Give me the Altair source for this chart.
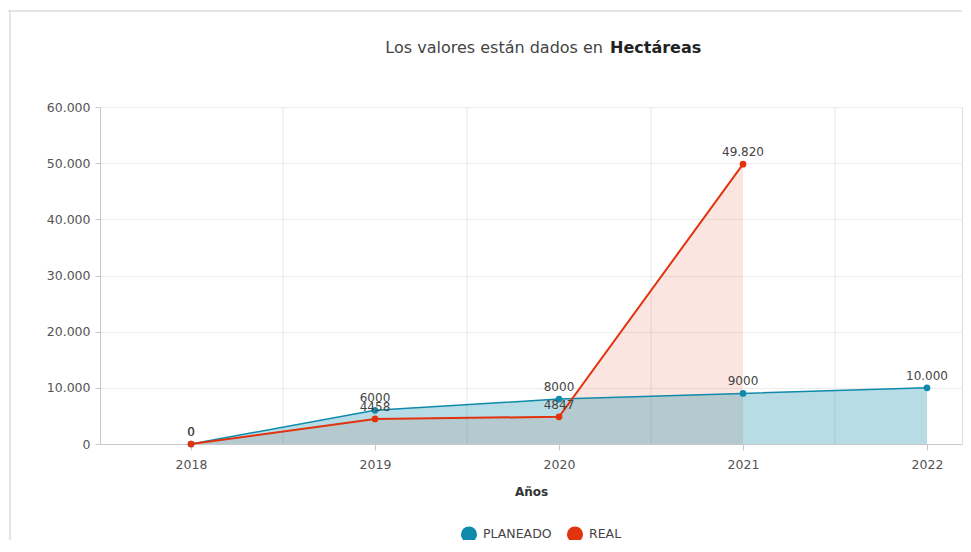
import altair as alt
import pandas as pd

years = [2018, 2019, 2020, 2021, 2022]
planeado = [0, 6000, 8000, 9000, 10000]
real_years = [2018, 2019, 2020, 2021]
real = [0, 4458, 4847, 49820]
series_names = ["PLANEADO", "REAL"]
series_colors = ["#0f8aaa", "#e2330f"]
y_ticks = [0, 10000, 20000, 30000, 40000, 50000, 60000]
grid_years = [2018.5, 2019.5, 2020.5, 2021.5]

rows = [{"year": y, "series": "PLANEADO", "value": v} for y, v in zip(years, planeado)]
rows += [{"year": y, "series": "REAL", "value": v} for y, v in zip(real_years, real)]
df = pd.DataFrame(rows)
grid_df = pd.DataFrame({"gx": grid_years})

W, H = 862, 337
xscale = alt.Scale(domain=[2017.5054, 2022.1902], nice=False, zero=False)
yscale = alt.Scale(domain=[0, 60000], nice=False)
cscale = alt.Scale(domain=series_names, range=series_colors)

fmt = "datum.value >= 10000 ? replace(format(datum.value, ',d'), ',', '.') : format(datum.value, 'd')"
AX_FONT = "DejaVu Sans"

x_axis = alt.Axis(values=years, format="d", title="Años", grid=False, tickSize=6,
                  labelPadding=8, labelFontSize=12.5, labelColor="#555", labelFont=AX_FONT,
                  titleFont=AX_FONT, titleFontSize=12, titleFontWeight="bold", titleColor="#333",
                  titlePadding=16, domainColor="#c8c8c8", tickColor="#c8c8c8")
y_axis = alt.Axis(values=y_ticks, title=None, grid=True, gridColor="#ececec", tickSize=5,
                  labelPadding=5, labelFontSize=12.5, labelColor="#555", labelFont=AX_FONT,
                  labelExpr=fmt, domainColor="#c8c8c8", tickColor="#c8c8c8")

base = alt.Chart(df)

vgrid = alt.Chart(grid_df).mark_rule(color="#e8e8e8", strokeWidth=1).encode(
    x=alt.X("gx:Q", scale=xscale, axis=x_axis),
    y=alt.value(0), y2=alt.value(H),
)

real_area = base.transform_filter("datum.series == 'REAL'").mark_area(
    color=series_colors[1], opacity=0.13).encode(
    x=alt.X("year:Q", scale=xscale, axis=x_axis),
    y=alt.Y("value:Q", scale=yscale, axis=y_axis),
)
plan_area = base.transform_filter("datum.series == 'PLANEADO'").mark_area(
    color=series_colors[0], opacity=0.3).encode(
    x=alt.X("year:Q", scale=xscale),
    y=alt.Y("value:Q", scale=yscale),
)
plan_line = base.transform_filter("datum.series == 'PLANEADO'").mark_line(
    color=series_colors[0], strokeWidth=1.5).encode(
    x=alt.X("year:Q", scale=xscale),
    y=alt.Y("value:Q", scale=yscale),
)
real_line = base.transform_filter("datum.series == 'REAL'").mark_line(
    color=series_colors[1], strokeWidth=2).encode(
    x=alt.X("year:Q", scale=xscale),
    y=alt.Y("value:Q", scale=yscale),
)
points = base.mark_circle(size=45, opacity=1).encode(
    x=alt.X("year:Q", scale=xscale),
    y=alt.Y("value:Q", scale=yscale),
    color=alt.Color("series:N", scale=cscale, title=None,
                    legend=alt.Legend(orient="none", legendX=360, legendY=418,
                                      direction="horizontal", symbolType="circle",
                                      symbolSize=260, symbolOpacity=1, labelFont=AX_FONT,
                                      labelFontSize=12.5, labelColor="#444",
                                      columnPadding=14, labelOffset=5)),
)
labels = base.mark_text(baseline="bottom", dy=-5, fontSize=12, font=AX_FONT, color="#444").encode(
    x=alt.X("year:Q", scale=xscale),
    y=alt.Y("value:Q", scale=yscale),
    text=alt.Text("lbl:N"),
).transform_calculate(
    lbl="datum.value >= 10000 ? replace(format(datum.value, ',d'), ',', '.') : format(datum.value, 'd')"
)

one = pd.DataFrame({"a": [0]})
title_reg = alt.Chart(one).mark_text(align="right", baseline="middle", fontSize=16,
                                     font="DejaVu Sans", color="#444").encode(
    x=alt.value(503), y=alt.value(-59), text=alt.value("Los valores están dados en"))
title_bold = alt.Chart(one).mark_text(align="left", baseline="middle", fontSize=16,
                                      font="DejaVu Sans", fontWeight="bold", color="#222").encode(
    x=alt.value(510), y=alt.value(-59), text=alt.value("Hectáreas"))
border_top = alt.Chart(one).mark_rule(color="#cccccc", strokeWidth=1).encode(
    x=alt.value(-95), x2=alt.value(W), y=alt.value(-96))
border_left = alt.Chart(one).mark_rule(color="#cccccc", strokeWidth=1).encode(
    x=alt.value(-90), y=alt.value(-96), y2=alt.value(H + 100))

chart = alt.layer(
    vgrid, real_area, plan_area, plan_line, real_line, points, labels,
    title_reg, title_bold, border_top, border_left
).properties(
    width=W, height=H,
    autosize=alt.AutoSizeParams(type="none"),
    padding={"left": 92, "top": 99, "right": 1, "bottom": 96},
).configure_view(stroke=None).configure(background="white")

chart.save("out.html", embed_options={"renderer": "svg", "actions": False})
